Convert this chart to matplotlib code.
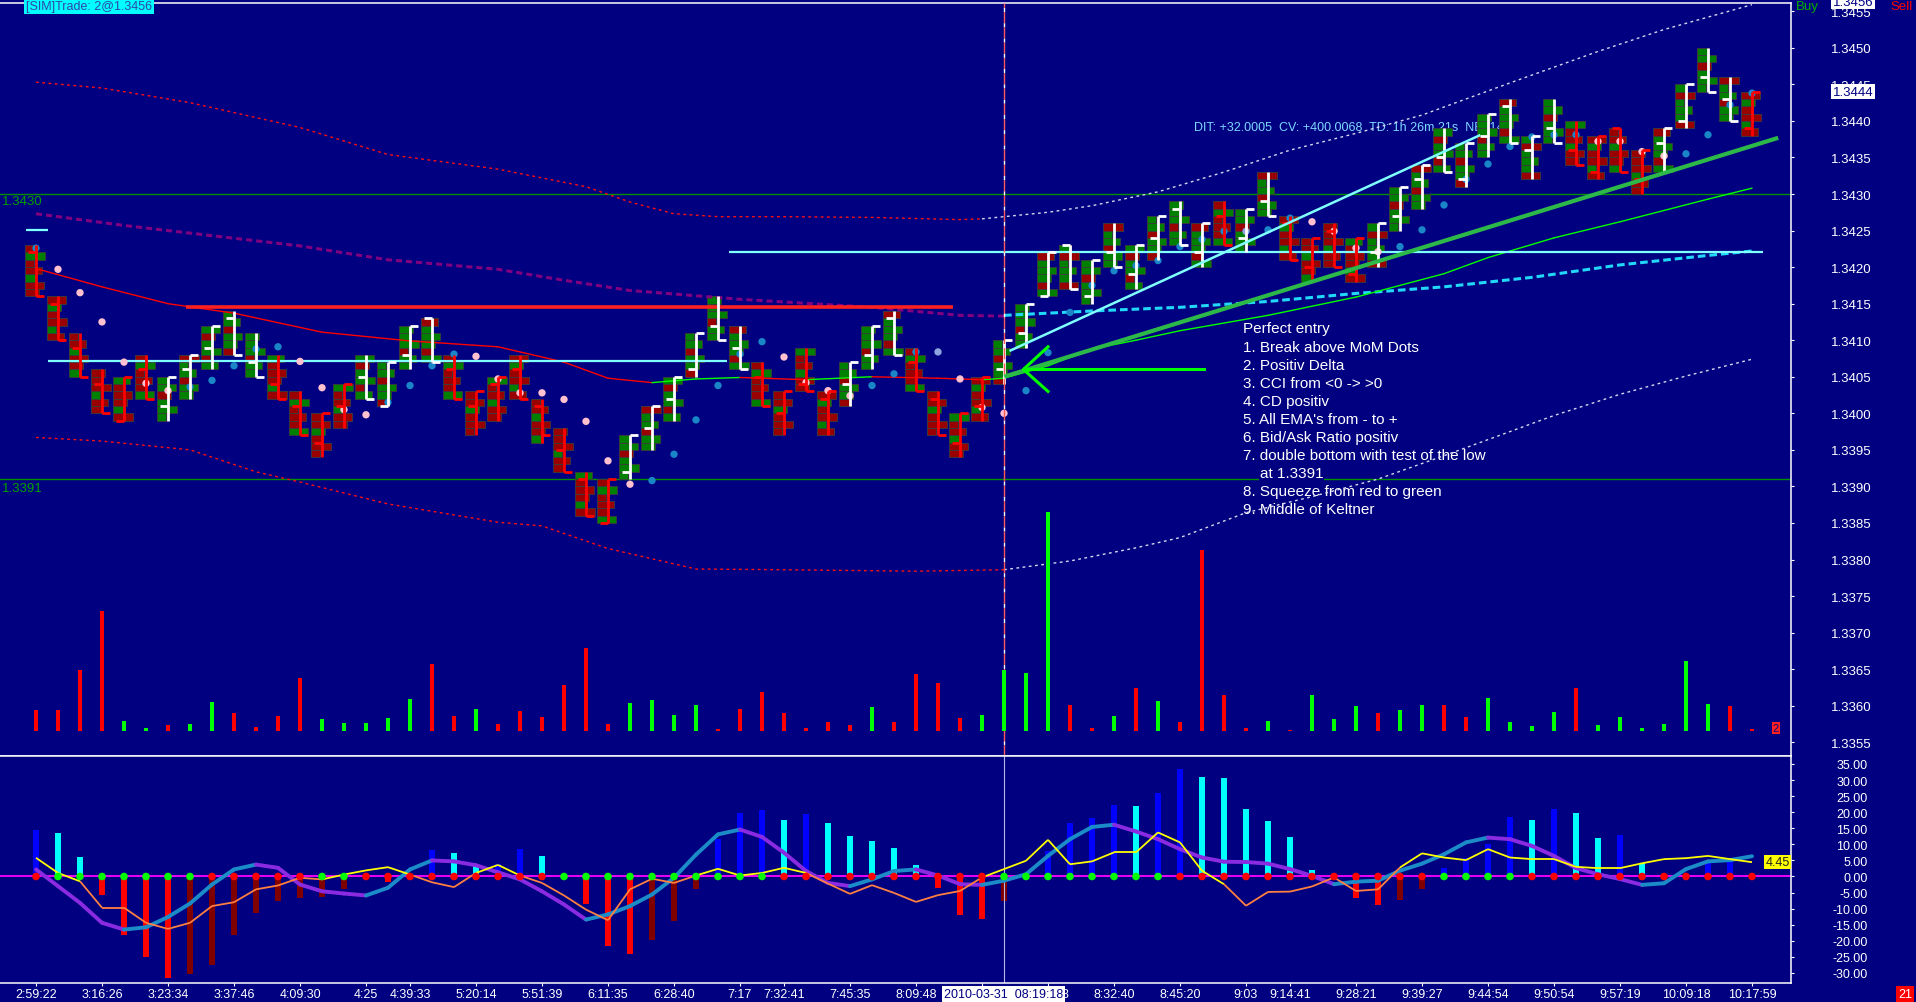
import numpy as np
import matplotlib
matplotlib.use('Agg')
import matplotlib.pyplot as plt
from matplotlib.collections import LineCollection, PatchCollection
from matplotlib.patches import Rectangle

plt.rcParams['font.family'] = ['Liberation Sans', 'DejaVu Sans']

# ---------------- values (6 tick range bars) ----------------
opens = [1.3422, 1.3415, 1.3409, 1.3404, 1.3399, 1.3406, 1.3401, 1.3406, 1.3409, 1.3413,
         1.3407, 1.3404, 1.3401, 1.3396, 1.3401, 1.3405, 1.3401, 1.3408, 1.3413, 1.3406,
         1.3401, 1.3404, 1.3406, 1.3401, 1.3395, 1.3391, 1.3385, 1.3392, 1.3398, 1.3402,
         1.3406, 1.3412, 1.3409, 1.3405, 1.3400, 1.3404, 1.3402, 1.3404, 1.3408, 1.3413,
         1.3407, 1.3402, 1.3396, 1.3401, 1.3406, 1.3411, 1.3416, 1.3423, 1.3416, 1.3422,
         1.3419, 1.3424, 1.3428, 1.3422, 1.3427, 1.3424, 1.3429, 1.3426, 1.3420, 1.3425,
         1.3419, 1.3422, 1.3427, 1.3432, 1.3435, 1.3432, 1.3438, 1.3442, 1.3436, 1.3439,
         1.3436, 1.3433, 1.3439, 1.3432, 1.3437, 1.3440, 1.3446, 1.3443, 1.3439]
highs = [1.3423, 1.3416, 1.3411, 1.3406, 1.3405, 1.3408, 1.3405, 1.3408, 1.3412, 1.3414,
         1.3411, 1.3408, 1.3403, 1.3400, 1.3404, 1.3408, 1.3407, 1.3412, 1.3413, 1.3408,
         1.3403, 1.3405, 1.3408, 1.3402, 1.3398, 1.3392, 1.3391, 1.3397, 1.3401, 1.3405,
         1.3411, 1.3416, 1.3412, 1.3407, 1.3403, 1.3409, 1.3403, 1.3407, 1.3412, 1.3414,
         1.3409, 1.3403, 1.3400, 1.3405, 1.3410, 1.3415, 1.3422, 1.3423, 1.3421, 1.3426,
         1.3423, 1.3427, 1.3429, 1.3426, 1.3429, 1.3428, 1.3433, 1.3427, 1.3424, 1.3426,
         1.3424, 1.3426, 1.3431, 1.3434, 1.3439, 1.3437, 1.3441, 1.3443, 1.3438, 1.3443,
         1.3440, 1.3438, 1.3439, 1.3436, 1.3439, 1.3445, 1.3450, 1.3446, 1.3444]
lows = [1.3416, 1.3410, 1.3405, 1.3400, 1.3399, 1.3402, 1.3399, 1.3402, 1.3406, 1.3408,
        1.3405, 1.3402, 1.3397, 1.3394, 1.3398, 1.3402, 1.3401, 1.3406, 1.3407, 1.3402,
        1.3397, 1.3399, 1.3402, 1.3396, 1.3392, 1.3386, 1.3385, 1.3391, 1.3395, 1.3399,
        1.3405, 1.3410, 1.3406, 1.3401, 1.3397, 1.3403, 1.3397, 1.3401, 1.3406, 1.3408,
        1.3403, 1.3397, 1.3394, 1.3399, 1.3404, 1.3409, 1.3416, 1.3417, 1.3415, 1.3420,
        1.3417, 1.3421, 1.3423, 1.3420, 1.3423, 1.3422, 1.3427, 1.3421, 1.3418, 1.3420,
        1.3418, 1.3420, 1.3425, 1.3428, 1.3433, 1.3431, 1.3435, 1.3437, 1.3432, 1.3437,
        1.3434, 1.3432, 1.3433, 1.3430, 1.3433, 1.3439, 1.3444, 1.3440, 1.3438]
closes = [1.3416, 1.3410, 1.3405, 1.3400, 1.3405, 1.3402, 1.3405, 1.3408, 1.3412, 1.3408,
          1.3405, 1.3402, 1.3397, 1.3400, 1.3404, 1.3402, 1.3407, 1.3412, 1.3407, 1.3402,
          1.3403, 1.3405, 1.3402, 1.3397, 1.3392, 1.3386, 1.3391, 1.3397, 1.3401, 1.3405,
          1.3411, 1.3410, 1.3406, 1.3401, 1.3403, 1.3403, 1.3403, 1.3407, 1.3412, 1.3408,
          1.3403, 1.3397, 1.3400, 1.3405, 1.3410, 1.3415, 1.3422, 1.3417, 1.3421, 1.3420,
          1.3423, 1.3427, 1.3423, 1.3426, 1.3423, 1.3428, 1.3427, 1.3421, 1.3424, 1.3420,
          1.3424, 1.3426, 1.3431, 1.3434, 1.3433, 1.3437, 1.3441, 1.3437, 1.3438, 1.3437,
          1.3434, 1.3438, 1.3433, 1.3436, 1.3439, 1.3445, 1.3444, 1.3440, 1.3444]
# w = white OHLC bracket, r = red bracket
bracket_col = ('rrrrrr' 'wwwww' 'rrrr' 'wwww' 'rrrrrrrr' 'wwwwww' 'rrrr' 'www' 'rrrr'
               'wwwwwwwwww' 'r' 'ww' 'rrrr' 'wwwwwwwww' 'rrrr' 'wwww' 'r')

volume = [21, 21, 61, 120, 10, 3, 6, 7, 29, 18, 4, 15, 53, 12, 8, 8, 13, 32, 67, 15,
          22, 7, 20, 14, 46, 83, 7, 28, 31, 16, 26, 2, 22, 39, 18, 3, 9, 6, 24, 9,
          57, 48, 13, 16, 61, 58, 219, 26, 3, 15, 43, 30, 9, 181, 36, 3, 10, 1, 36, 12,
          25, 18, 21, 26, 26, 14, 33, 9, 5, 19, 43, 6, 14, 3, 7, 70, 27, 25, 2]
volume_col = ('rrrrggrggr' 'rrrgggggrr' 'grrrrrrggg' 'grrrrrrrgr' 'rrrggggrrg'
              'rgrrrrgrgg' 'grggrrgggg' 'rggggggrr')

mom_dots = [1.34226, 1.34197, 1.34165, 1.34125, 1.34070, 1.34041, 1.34031, 1.34036, 1.34045, 1.34065,
            1.34088, 1.34091, 1.34071, 1.34035, 1.34005, 1.33998, 1.34015, 1.34038, 1.34065, 1.34081,
            1.34078, 1.34047, 1.34028, 1.34028, 1.34019, 1.33989, 1.33935, 1.33903, 1.33908, 1.33944,
            1.33991, 1.34038, 1.34081, 1.34098, 1.34077, 1.34042, 1.34031, 1.34024, 1.34038, 1.34054,
            1.34084, 1.34084, 1.34047, 1.34008, 1.34000, 1.34031, 1.34083, 1.34138, 1.34175, 1.34195,
            1.34202, 1.34209, 1.34228, 1.34238, 1.34249, 1.34249, 1.34251, 1.34267, 1.34262, 1.34249,
            1.34226, 1.34221, 1.34228, 1.34251, 1.34285, 1.34320, 1.34341, 1.34365, 1.34378, 1.34381,
            1.34381, 1.34372, 1.34372, 1.34358, 1.34352, 1.34355, 1.34381, 1.34422, 1.34438]
mom_col = ('bppppppbbb' 'bbppppbbbb' 'ppppppppbb' 'bbbbppppbb' 'blpppbbbbb'
           'bbbbblbbpp' 'ppbbbbbbbb' 'bppppbbbb')

# EMA (green rising / red falling) and Keltner channel, read at selected bars
ema_idx = [0, 3, 6, 9, 13, 17, 21, 24, 26, 28, 30, 32, 35, 38, 41, 43, 44, 46, 48, 50,
           52, 56, 60, 64, 66, 69, 72, 76, 78]
ema = [1.34198, 1.34173, 1.34150, 1.34137, 1.34111, 1.34099, 1.34091, 1.34070, 1.34048, 1.34042,
       1.34047, 1.34049, 1.34046, 1.34050, 1.34048, 1.34046, 1.34048, 1.34065, 1.34088, 1.34100,
       1.34113, 1.34134, 1.34159, 1.34191, 1.34213, 1.34240, 1.34262, 1.34293, 1.34308]
kup_before_idx = [0, 3, 7, 12, 16, 21, 25, 27, 29, 31, 34, 38, 42, 43]
kup_before = [1.34453, 1.34445, 1.34425, 1.34391, 1.34354, 1.34334, 1.34310, 1.34289, 1.34273,
              1.34269, 1.34269, 1.34268, 1.34265, 1.34266]
kup_after_idx = [43, 44, 46, 48, 51, 54, 57, 60, 63, 67, 71, 74, 78]
kup_after = [1.34266, 1.34269, 1.34275, 1.34284, 1.34303, 1.34330, 1.34360, 1.34383, 1.34408,
             1.34452, 1.34495, 1.34525, 1.34559]
kmid_before_idx = [0, 4, 8, 12, 16, 21, 24, 27, 32, 38, 42, 44]
kmid_before = [1.34273, 1.34257, 1.34243, 1.34229, 1.34210, 1.34197, 1.34182, 1.34168, 1.34156,
               1.34145, 1.34134, 1.34133]
kmid_after_idx = [44, 48, 52, 56, 60, 64, 68, 72, 76, 78]
kmid_after = [1.34134, 1.34140, 1.34145, 1.34153, 1.34164, 1.34173, 1.34186, 1.34203, 1.34216, 1.34222]
klow_before_idx = [0, 3, 7, 10, 12, 16, 21, 23, 26, 30, 34, 40, 44]
klow_before = [1.33967, 1.33962, 1.33950, 1.33920, 1.33906, 1.33876, 1.33851, 1.33846, 1.33815,
               1.33787, 1.33786, 1.33784, 1.33786]
klow_after_idx = [44, 47, 50, 52, 55, 58, 61, 64, 66, 69, 72, 75, 78]
klow_after = [1.33786, 1.33798, 1.33816, 1.33830, 1.33864, 1.33886, 1.33910, 1.33942, 1.33964,
              1.33997, 1.34026, 1.34051, 1.34074]

# hand drawn objects: (price, from bar, to bar)
support_line = (1.34071, 0.55, 31.4)
resistance_line = (1.34146, 6.8, 41.7)
upper_level = (1.34221, 31.5, 78.5)
first_tick_mark = (1.34251, -0.45, 0.53)
green_levels = [1.3430, 1.3391]
cyan_trend_x, cyan_trend_y = [44.3, 65.6], [1.34086, 1.34380]
green_trend_x, green_trend_y = [44.1, 79.1], [1.34051, 1.34376]
arrow_x, arrow_y = [44.9, 53.1], [1.34061, 1.34061]
arrow_head_x, arrow_head_y = [46.0, 44.88, 46.0], [1.34091, 1.34060, 1.34030]
entry_bar = 44

# lower panel
osc_hist = [14.4, 13.4, 6.0, -5.6, -18.3, -24.9, -31.7, -30.2, -27.4, -18.2,
            -11.5, -7.5, -6.8, -6.4, -4.0, -0.5, -1.8, 0.0, 8.1, 7.2,
            3.4, 4.0, 8.4, 6.5, 0.0, -8.7, -21.5, -24.2, -19.6, -13.9,
            -4.0, 11.7, 19.8, 20.8, 17.7, 19.3, 16.5, 12.7, 10.9, 9.0,
            3.7, -3.5, -12.0, -13.2, -7.6, 0.0, 7.8, 16.6, 18.1, 22.2,
            21.9, 25.9, 33.4, 30.9, 30.6, 20.9, 17.2, 12.2, 2.0, 0.0,
            -6.7, -8.9, -7.3, -3.9, 2.6, 5.7, 10.1, 18.4, 17.5, 20.9,
            19.7, 11.9, 12.8, 4.1, 0.0, 0.0, 4.1, 5.4, 0.0]
osc_slow = [2.2, -3.0, -8.2, -14.4, -16.5, -15.8, -12.6, -8.4, -2.5, 2.2,
            3.7, 2.7, -2.5, -4.6, -5.3, -5.9, -3.5, 2.2, 5.0, 4.7,
            3.5, 1.3, -0.9, -4.6, -8.7, -13.4, -11.8, -9.2, -5.6, -0.4,
            6.8, 13.1, 14.6, 12.3, 7.4, 1.7, -2.0, -3.0, -0.9, 1.7,
            2.2, 0.3, -2.4, -2.6, -1.3, 0.7, 6.4, 11.6, 15.4, 16.1,
            14.0, 11.6, 8.5, 5.9, 4.6, 4.5, 4.0, 2.3, 0.2, -2.4,
            -1.6, -1.3, 1.8, 4.0, 6.9, 10.6, 12.1, 11.6, 9.5, 6.4,
            2.6, 0.7, -0.8, -2.6, -2.1, 2.3, 4.7, 5.1, 6.3]
osc_fast = [5.8, 1.1, -1.5, -9.7, -9.7, -14.4, -16.3, -14.4, -9.2, -8.0,
            -4.0, -2.8, -0.4, -0.9, 0.6, 1.9, 2.9, 0.6, -1.8, -3.3,
            1.1, 3.6, 0.3, -2.0, -5.9, -10.3, -13.6, -4.0, -0.7, -2.0,
            0.3, 2.4, 0.3, 1.1, 2.7, 1.1, -2.2, -5.4, -2.7, -5.1,
            -7.9, -5.8, -4.5, -0.3, 2.3, 4.9, 11.4, 3.8, 4.7, 7.5,
            7.5, 13.7, 10.6, 1.8, -2.4, -9.1, -4.8, -4.7, -3.1, -0.3,
            -4.5, -4.0, 2.8, 7.2, 5.9, 5.1, 8.5, 5.9, 5.4, 5.4,
            3.0, 2.6, 2.6, 4.1, 5.4, 5.7, 6.4, 5.4, 4.45]
squeeze_col = ('r' 'ggggggg' 'rrrrr' 'gg' 'rrrrrrrrr' 'gggggggggg' 'rrrrrrrrrr'
               'gggggggg' 'rrrrrrrrrrrr' 'gggg' 'rrrrrrrrrrr')

# labels at bars 43 and 46 sit under the date box (only the last "3" of bar 46 shows)
xtick_idx = [0, 3, 6, 9, 12, 15, 17, 20, 23, 26, 29, 32, 34, 37, 40, 43, 46, 49, 52, 55,
             57, 60, 63, 66, 69, 72, 75, 78]
xtick_lbl = ['2:59:22', '3:16:26', '3:23:34', '3:37:46', '4:09:30', '4:25', '4:39:33',
             '5:20:14', '5:51:39', '6:11:35', '6:28:40', '7:17', '7:32:41', '7:45:35',
             '8:09:48', '', '', '8:32:40', '8:45:20', '9:03', '9:14:41',
             '9:28:21', '9:39:27', '9:44:54', '9:50:54', '9:57:19', '10:09:18', '10:17:59']
cursor_time = '2010-03-31  08:19:18'

notes = ['Perfect entry', '1. Break above MoM Dots', '2. Positiv Delta', '3. CCI from <0 -> >0',
         '4. CD positiv', "5. All EMA's from - to +", '6. Bid/Ask Ratio positiv',
         '7. double bottom with test of the low', 'at 1.3391', '8. Squeeze from red to green',
         '9. Middle of Keltner']

# ---------------- figure ----------------
W, H = 1916, 1003
NAVY = '#000080'
PIP = 0.0001
n = len(opens)
x = np.arange(n)

fig = plt.figure(figsize=(W / 100, H / 100), dpi=100, facecolor=NAVY)

def rect(x0, y0, x1, y1):
    return [x0 / W, 1 - y1 / H, (x1 - x0) / W, (y1 - y0) / H]

def fxy(px, py):
    return px / W, 1 - py / H

ax = fig.add_axes(rect(0, 4, 1791, 757), facecolor=NAVY)
axl = fig.add_axes(rect(0, 757, 1791, 984), facecolor=NAVY, sharex=ax)
vax = ax.twinx()

ax.set_xlim(-36 / 22, (1791 - 36) / 22)
ax.set_ylim(1.335312, 1.345613)
axl.set_ylim(-33.12, 37.47)
vax.set_ylim(-25.3, 727.7)
vax.set_axis_off()

for a in (ax, axl):
    for s in ('top', 'right', 'bottom'):
        a.spines[s].set_color('white')
        a.spines[s].set_linewidth(1.1)
    a.spines['left'].set_visible(False)

# price scale on the right
ax.yaxis.tick_right()
pticks = np.arange(13355, 13456, 5) / 10000
ax.set_yticks(pticks, labels=[f'{v:.4f}' for v in pticks], ha='right')
ax.tick_params(axis='y', colors='white', length=2.2, width=0.8, pad=56, labelsize=9.5)
ax.tick_params(axis='x', bottom=False, labelbottom=False)
axl.yaxis.tick_right()
oticks = np.arange(-30, 36, 5)
axl.set_yticks(oticks, labels=[f'{v:.2f}' for v in oticks], ha='right')
axl.tick_params(axis='y', colors='white', length=2.2, width=0.8, pad=53, labelsize=9)
axl.set_xticks(xtick_idx, labels=xtick_lbl)
axl.tick_params(axis='x', colors='white', length=2.2, width=0.8, pad=1.5, labelsize=9)

# ---------------- price pane ----------------
for lvl in green_levels:
    ax.axhline(lvl, color='#009000', lw=1.0, zorder=1)
ax.text(*fxy(2, 196), '1.3430', transform=fig.transFigure, color='#00A000', fontsize=9.5, va='top')
ax.text(*fxy(2, 483), '1.3391', transform=fig.transFigure, color='#00A000', fontsize=9.5, va='top')

ax.text(*fxy(1194, 128), 'DIT: +32.0005  CV: +400.0068  TD: 1h 26m 21s  NB: 14',
        transform=fig.transFigure, color='#7FD8FF', fontsize=9, va='center', zorder=1.5)

# keltner channel
dot = (0, (2, 2.5))
ax.plot(kup_before_idx, kup_before, color='#FF1010', lw=1.0, ls=dot, zorder=2.6)
ax.plot(kup_after_idx, kup_after, color='#D8D8F0', lw=1.0, ls=dot, zorder=2.6)
ax.plot(klow_before_idx, klow_before, color='#FF1010', lw=1.0, ls=dot, zorder=2.6)
ax.plot(klow_after_idx, klow_after, color='#D8D8F0', lw=1.0, ls=dot, zorder=2.6)
ax.plot(kmid_before_idx, kmid_before, color='#800080', lw=2.2, ls=(0, (2, 1.3)), zorder=2.6)
ax.plot(kmid_after_idx, kmid_after, color='#22D8F8', lw=2.2, ls=(0, (2.5, 1.3)), zorder=2.6)

def slope_line(a, xs, ys, up, down, lw, z):
    pts = np.column_stack([xs, ys])
    segs = np.stack([pts[:-1], pts[1:]], axis=1)
    cols = [up if b >= p else down for p, b in zip(ys[:-1], ys[1:])]
    a.add_collection(LineCollection(segs, colors=cols, linewidths=lw, zorder=z, capstyle='round'))

slope_line(ax, ema_idx, ema, '#00FF00', '#FF0000', 1.0, 2.7)

# footprint blocks
BLOCK_W = [0.62, 0.88, 0.48, 0.76, 0.4, 0.92, 0.55]
UP_MIX, DN_MIX = 'ggrggrg', 'rrgrrgr'
rects, fcs = [], []
for i in range(n):
    levels = int(round((highs[i] - lows[i]) / PIP))
    mix = UP_MIX if bracket_col[i] == 'w' else DN_MIX
    for k in range(levels):
        rects.append(Rectangle((i - 0.5, lows[i] + k * PIP), BLOCK_W[(k + 3 * i) % 7], PIP))
        fcs.append('#008000' if mix[(k + i) % 7] == 'g' else '#990000')
ax.add_collection(PatchCollection(rects, facecolors=fcs, edgecolors='#3C3C3C',
                                  linewidths=0.6, zorder=2))

# drawn levels
for (lvl, x0, x1), col, lw in [(support_line, '#80FFFF', 1.6), (upper_level, '#80FFFF', 1.6),
                               (first_tick_mark, '#80FFFF', 1.6), (resistance_line, '#FF2020', 2.6)]:
    ax.hlines(lvl, x0, x1, color=col, lw=lw, zorder=3)

# momentum dots
dot_colors = {'b': '#1A86C8', 'p': '#FFC0D0', 'l': '#8EA6E0'}
ax.scatter(x, mom_dots, s=28, c=[dot_colors[c] for c in mom_col], lw=0, zorder=3.5)

# OHLC brackets
segs, scol = [], []
for i in range(n):
    c = 'white' if bracket_col[i] == 'w' else '#FF0000'
    segs += [[(i, lows[i]), (i, highs[i])], [(i - 0.38, opens[i]), (i, opens[i])],
             [(i, closes[i]), (i + 0.38, closes[i])]]
    scol += [c, c, c]
ax.add_collection(LineCollection(segs, colors=scol, linewidths=2.0, zorder=4, capstyle='butt'))

# trend lines and arrow
ax.plot(cyan_trend_x, cyan_trend_y, color='#80FFFF', lw=1.8, zorder=5)
ax.plot(green_trend_x, green_trend_y, color='#2DB84A', lw=3.0, zorder=5)
ax.plot(arrow_x, arrow_y, color='#00FF00', lw=2.2, zorder=5)
ax.plot(arrow_head_x, arrow_head_y, color='#00FF00', lw=2.2, zorder=5)

ax.axvline(entry_bar, color='#FF5A5A', lw=1.0, ls=(0, (8, 3)), gapcolor='white', zorder=4.5)

# annotation block
base = 333.5
for j, line in enumerate(notes):
    px = 1260 if line.startswith('at ') else 1243
    ax.text(*fxy(px, base + j * 18.1), line, transform=fig.transFigure, color='white',
            fontsize=11, va='baseline', zorder=2.55,
            bbox=dict(facecolor=NAVY, edgecolor='none', pad=0.5))

# volume
vax.bar(x, volume, width=0.18, color=['#00FF00' if c == 'g' else '#FF0000' for c in volume_col])

# price labels on the right
fig.text(*fxy(1796, 7), 'Buy', color='#00B000', fontsize=9.5, va='center')
fig.text(*fxy(1890, 7), 'Sell', color='#FF0000', fontsize=9.5, va='center')
fig.text(*fxy(1853, 3), '1.3456', color=NAVY, fontsize=9.5, va='center', ha='center',
         bbox=dict(facecolor='white', edgecolor='none', pad=1))
ax.text(1853 / 1791, closes[-1], f'{closes[-1]:.4f}', transform=ax.get_yaxis_transform(),
        color=NAVY, fontsize=9.5, va='center', ha='center', clip_on=False, zorder=10,
        bbox=dict(facecolor='white', edgecolor='none', pad=1))
fig.text(*fxy(26, 7), '[SIM]Trade: 2@1.3456', color='#3344AA', fontsize=9, va='center',
         bbox=dict(facecolor='#00FFFF', edgecolor='none', pad=1.2))
fig.text(*fxy(1776, 729), '2', color=NAVY, fontsize=8, va='center', ha='center',
         bbox=dict(facecolor='#FF2020', edgecolor='none', pad=0.6))

# ---------------- oscillator pane ----------------
hcols = []
prev = 0.0
for v in osc_hist:
    if v >= 0:
        hcols.append('#0000FF' if v >= prev else '#00FFFF')
    else:
        hcols.append('#FF0000' if v <= prev else '#800000')
    prev = v
axl.bar(x, osc_hist, width=0.27, color=hcols, zorder=1.5)
axl.axhline(0, color='#FF00FF', lw=1.3, zorder=2)
slope_line(axl, x, np.array(osc_slow), '#1C8CC8', '#8A2BE2', 2.8, 3)
fast = np.array(osc_fast)
pts = np.column_stack([x, fast])
fsegs = np.stack([pts[:-1], pts[1:]], axis=1)
fcols = ['#FFFF00' if (p + b) / 2 > -0.5 else '#FF8040' for p, b in zip(fast[:-1], fast[1:])]
axl.add_collection(LineCollection(fsegs, colors=fcols, linewidths=1.3, zorder=3.2))
axl.scatter(x, np.zeros(n), s=30, c=['#00FF00' if c == 'g' else '#FF0000' for c in squeeze_col],
            lw=0, zorder=4)
axl.axvline(entry_bar, color='#B8B8E8', lw=0.8, zorder=2.5)
axl.text((1777.5 - 36) / 22, osc_fast[-1], f'{osc_fast[-1]:.2f}', color='#202020', fontsize=9,
         ha='center', va='center', zorder=6, bbox=dict(facecolor='#FFFF00', edgecolor='none', pad=0.8))

fig.text(*fxy(1003.5, 995), cursor_time, color=NAVY, fontsize=9, ha='center',
         va='center', bbox=dict(facecolor='white', edgecolor='none', pad=1.2))
fig.text(*fxy(1062, 995), '3', color='white', fontsize=9, ha='left', va='center')
fig.text(*fxy(1905, 995), '21', color='white', fontsize=9, ha='center', va='center',
         bbox=dict(facecolor='#FF0000', edgecolor='none', pad=1.2))

fig.savefig('out.png', dpi=100, facecolor=NAVY)
